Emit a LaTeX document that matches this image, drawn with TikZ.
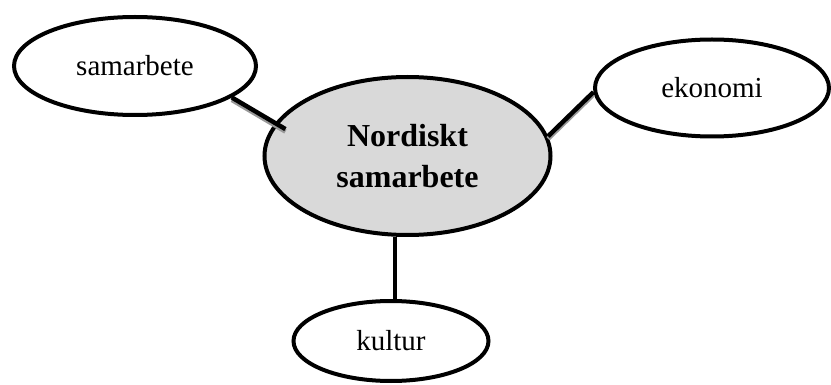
\documentclass[tikz,border=0pt]{standalone}
\usepackage{fontspec}
\setmainfont{Liberation Serif}
\usetikzlibrary{shapes.geometric}
\definecolor{centerfill}{HTML}{D9D9D9}
\definecolor{shadowgray}{HTML}{999999}
\tikzset{
  bubble/.style={ellipse, draw=black, line width=4pt, fill=white, inner sep=0pt,
    font=\fontsize{29}{34}\selectfont},
  hub/.style={bubble, fill=centerfill, align=center,
    font=\fontsize{32}{41}\selectfont\bfseries},
  link/.style={line width=4.5pt, draw=black},
  linkshadow/.style={line width=4.5pt, draw=shadowgray}
}
\begin{document}
\begin{tikzpicture}[x=1pt,y=-1pt]
\useasboundingbox (0,0) rectangle (831,385);
\node[hub, minimum width=286pt, minimum height=158pt] (c) at (407.5,156) {Nordiskt\\samarbete};
\node[bubble, minimum width=242pt, minimum height=98pt] (s) at (135,66) {samarbete};
\node[bubble, minimum width=234pt, minimum height=97pt] (e) at (712,88) {ekonomi};
\node[bubble, minimum width=195pt, minimum height=80pt] (k) at (391,341) {kultur};
\draw[linkshadow, shorten >=-12pt] ([yshift=-2.5pt]s.-18) -- ([yshift=-2.5pt]c.166);
\draw[link, shorten >=-12pt] (s.-18) -- (c.166);
\draw[linkshadow] ([yshift=-2.5pt]e.182) -- ([yshift=-2.5pt]c.8);
\draw[link] (e.182) -- (c.8);
\draw[link] ([xshift=4pt]k.north) -- ([xshift=4pt]k.north |- c.south);
\end{tikzpicture}
\end{document}
